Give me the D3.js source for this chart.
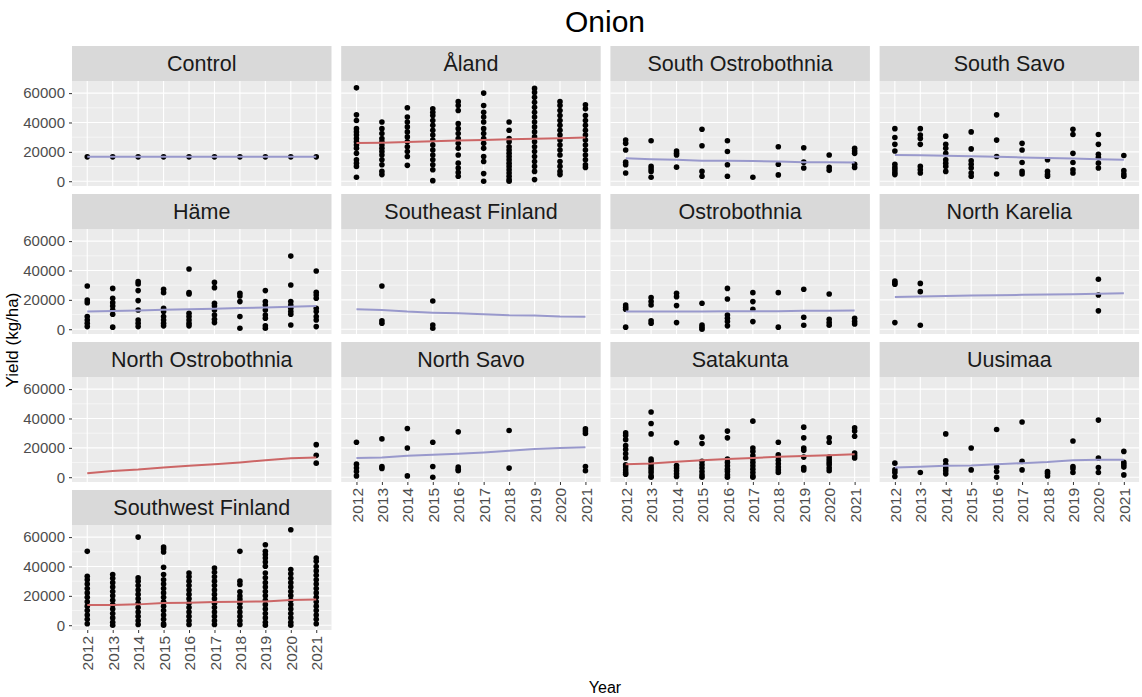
<!DOCTYPE html>
<html><head><meta charset="utf-8">
<script src="https://cdn.jsdelivr.net/npm/d3@7"></script>
<style>body{margin:0;background:#fff} text{font-family:"Liberation Sans",Arial,sans-serif}</style>
</head><body><svg id="c" width="1142" height="697"></svg>
<script>
const years = [2012,2013,2014,2015,2016,2017,2018,2019,2020,2021];
const regions = ["Control","Åland","South Ostrobothnia","South Savo","Häme","Southeast Finland","Ostrobothnia","North Karelia","North Ostrobothnia","North Savo","Satakunta","Uusimaa","Southwest Finland"];
// trend group per region: "up" drawn red, "flat" drawn purple
const trendGroup = ["flat","up","flat","flat","flat","flat","flat","flat","up","flat","up","flat","up"];
const yTicks = [0,20000,40000,60000];

// observed yields (kg/ha), one list per year 2012..2021
const ptsControl = [[16600],[16600],[16600],[16600],[16600],[16600],[16600],[16600],[16600],[16600]];
const ptsAland = [
 [63600,45200,41400,35800,33600,31400,29100,26900,24600,22400,19000,14600,12300,10100,2700],
 [40300,35800,32500,29100,26900,24600,22400,20200,17900,14600,11200,6700,4500],
 [50000,43700,40300,37000,33600,30200,26900,23500,20200,16800,10800],
 [49300,47000,44800,41400,38100,34700,31400,28000,24600,21300,17900,14600,11200,7800,400],
 [54200,51500,48200,39200,35800,32500,29100,25800,22400,17900,12300,9000,6000,3400],
 [60000,51500,47000,43700,40300,35800,32500,29100,25800,22400,16800,13400,5200,0],
 [40300,34700,29100,26900,23500,21300,19000,16800,14600,12300,10100,7800,5600,3400,1100,0],
 [63200,60500,57100,53800,50400,47000,43700,40300,37000,33600,30200,26900,23500,20200,16800,13400,10100,6700,1100],
 [54200,51500,48200,44800,41400,38100,34700,31400,28000,24600,21300,17900,13400,10100,6700,4500],
 [52000,49300,44800,41400,38100,34700,31400,28000,24600,21300,17900,14600,11200,9400]];
const ptsSouthOstrobothnia = [
 [28000,25800,21300,13000,11200,5600],[27600,10100,8300,6700,2700],[20600,19000,17900,9600],
 [35400,24200,6700,3400],[27600,20200,11200,3400],[2700],[23500,11600,4300],[22800,13000,9000],
 [17900,9400,7400],[22400,20600,19000,11600,9400]];
const ptsSouthSavo = [
 [35800,29800,25100,20600,11600,9400,7800,6000,4500],[35800,31400,29100,25100,10100,7800,5600],
 [30700,25100,22400,19000,14600,12300,10100,6700],[33600,22000,13900,11600,9000,5600,3400],
 [45200,28000,16800,4900],[25800,21300,12800,6700,4900],[14600,6700,4500,3400],
 [35400,31800,19000,12800,7800,5600],[31800,25100,18400,16100,12300,9000],[17500,7200,4900,3400]];
const ptsHame = [
 [29400,19900,18100,8600,6300,4100,1800],[27800,21100,18100,15800,13100,10200,1400],
 [32400,30800,26300,19500,13100,6300,4100,1800],[27200,24900,14300,12000,8600,6300,4100,2300],
 [41000,24900,24000,10900,8600,6300,4100,2300],[31900,28300,17700,15800,13100,9700,6800,4500],
 [24500,22600,18800,8600,700],[26300,18800,16500,13100,9700,7500,2300,700],
 [49800,30100,18800,16500,14300,12000,10200,2900],[39600,25100,23300,21100,14300,12000,8600,6300,1800]];
const ptsSoutheastFinland = [[],[29400,5700,4100],[],[19200,2900,700],[],[],[],[],[],[]];
const ptsOstrobothnia = [
 [16500,14900,13600,1400],[21500,18800,16500,5700,4100],[24500,22200,16100,4500],[17700,2900,1400,0],
 [27800,20600,9700,7500,5200,2300],[24900,18800,13600,5200],[24900,1400],[27200,8200,2700],
 [24000,6800,4500,2700],[7500,5200,3600]];
const ptsNorthKarelia = [[32800,31700,30600,4500],[31200,25600,2700],[],[],[],[],[],[],[34000,23300,12500],[]];
const ptsNorthOstrobothnia = [[],[],[],[],[],[],[],[],[],[22200,14900,9600]];
const ptsNorthSavo = [
 [23800,8900,6200,3900,900],[26100,7300,6000],[33200,19900,900],[23800,7300,0],[30900,6900,5500,4400],
 [],[31800,6200],[],[],[33000,31400,29800,7300,4400]];
const ptsSatakunta = [
 [30200,28400,25600,21500,18800,16000,13100,8500,6900,5000,3200,2100],
 [44400,36600,29500,12400,10800,8500,6600,5000,3200,900,0],
 [23400,8000,6200,4400,2300,500],
 [27300,22900,10800,8500,6200,3900,1600,0],
 [31400,26800,12400,10100,7800,5500,3900,1600,0],
 [38200,19900,17600,14700,12400,10100,7800,5500,3200,900,0],
 [23800,15300,13700,11500,9200,6900,5000,3200],
 [34100,26800,19900,18300,13700,6600,5000],
 [26800,23800,13700,11900,10100,8500,6200,4400],
 [33700,31400,27900,16500,14700,13100]];
const ptsUusimaa = [
 [9600,5000,3200,500],[3200],[29500,11200,8500,6200,4400,2300],[19900,5000],[32500,6900,3900,0],
 [37600,10800,5000],[3900,2700,900],[24700,7300,5700,3200],[38900,13100,6600,3200],[17600,10100,8500,6900,1600]];
const ptsSouthwestFinland = [
 [50300,33400,31000,28000,25000,22000,19000,16000,13000,10000,7000,4000,1000],
 [34500,32000,29000,26000,23000,20000,17000,14000,11000,8000,5000,2000,0],
 [60000,32300,30000,27000,24000,21000,18000,15000,12000,9000,6000,3000,500],
 [53200,51900,49900,39500,34500,31000,28000,25000,22000,19000,16000,13000,10000,7000,4000,1000,0],
 [35600,33000,30000,27000,24000,21000,18000,15000,12000,9000,6000,3000,500],
 [39000,36000,33000,30000,27000,24000,21000,18000,15000,12000,9000,6000,3000,500],
 [50300,30000,27700,22800,19900,17600,15000,12000,9000,6000,3000,500],
 [54800,50300,48100,45800,43100,40200,35600,32300,29000,26000,23000,20000,17000,14000,11000,8000,5000,2000,0],
 [65000,37900,35000,32000,29000,26000,23000,20000,17000,14000,11000,8000,5000,2000,0],
 [45800,43500,40000,37000,34000,31000,28000,25000,22000,19000,16000,13000,10000,7000,4000,1000]];

// fitted trend values per year
const fitControl = [16600,16600,16600,16600,16600,16600,16600,16600,16600,16600];
const fitAland = [26000,26200,26700,27200,27700,28100,28500,28900,29300,29700];
const fitSouthOstrobothnia = [15600,15000,14600,13900,13900,13700,13400,13000,13000,12800];
const fitSouthSavo = [17900,17700,17300,17000,16600,16200,15800,15400,15000,14600];
const fitHame = [12000,12400,12800,13200,13600,14000,14400,14800,15300,15800];
const fitSoutheastFinland = [13600,13100,12000,11300,10900,10200,9500,9300,8700,8500];
const fitOstrobothnia = [12000,12000,12100,12100,12200,12200,12300,12500,12600,12700];
const fitNorthKarelia = [22000,22300,22600,22900,23100,23400,23600,23900,24200,24500];
const fitNorthOstrobothnia = [2700,4200,5200,6600,7800,8900,10100,11500,12900,13500];
const fitNorthSavo = [13100,13500,14700,15300,16000,16900,18100,19200,19900,20400];
const fitSatakunta = [8900,9400,10500,11500,12400,13100,14000,14400,14900,15600];
const fitUusimaa = [6600,7100,7800,8000,8900,9600,10300,11500,11900,11900];
const fitSouthwestFinland = [13800,13800,14200,15100,15300,15800,16000,16200,17100,17600];

const allPts = [ptsControl,ptsAland,ptsSouthOstrobothnia,ptsSouthSavo,ptsHame,ptsSoutheastFinland,ptsOstrobothnia,ptsNorthKarelia,ptsNorthOstrobothnia,ptsNorthSavo,ptsSatakunta,ptsUusimaa,ptsSouthwestFinland];
const allFit = [fitControl,fitAland,fitSouthOstrobothnia,fitSouthSavo,fitHame,fitSoutheastFinland,fitOstrobothnia,fitNorthKarelia,fitNorthOstrobothnia,fitNorthSavo,fitSatakunta,fitUusimaa,fitSouthwestFinland];

const svg = d3.select("#c");
const left0 = 72, pw = 259.5, pitchX = 269.2, top0 = 46, stripH = 35, ph = 105, pitchY = 148;
const ncol = 4;

const x = d3.scalePoint().domain(years).range([0, pw]).padding(0.6);
const allVals = allPts.flat(2);
const maxV = d3.max(allVals), minV = 0;
const pad = (maxV - minV) * 0.05;
const y = d3.scaleLinear().domain([minV - pad, maxV + pad]).range([ph, 0]);
const color = d3.scaleOrdinal().domain(["up","flat"]).range(["#cc6666","#9999cc"]);
const minor = [10000,30000,50000];

svg.append("text").attr("x", 605).attr("y", 32).attr("text-anchor","middle")
  .style("font-size","30px").attr("fill","#000").text("Onion");

regions.forEach((name, i) => {
  const col = i % ncol, row = Math.floor(i / ncol);
  const g = svg.append("g").attr("transform", `translate(${left0 + col*pitchX},${top0 + row*pitchY})`);
  g.append("rect").attr("width", pw).attr("height", stripH).attr("fill", "#d9d9d9");
  g.append("text").attr("x", pw/2).attr("y", stripH/2).attr("dy","0.36em").attr("text-anchor","middle")
    .style("font-size","21.5px").attr("fill","#1a1a1a").text(name);
  const p = g.append("g").attr("transform", `translate(0,${stripH})`);
  p.append("rect").attr("width", pw).attr("height", ph).attr("fill", "#ebebeb");
  p.selectAll("line.mn").data(minor).join("line").attr("x1",0).attr("x2",pw)
    .attr("y1",d=>y(d)).attr("y2",d=>y(d)).attr("stroke","#fff").attr("stroke-width",0.55);
  p.selectAll("line.mjy").data(yTicks).join("line").attr("x1",0).attr("x2",pw)
    .attr("y1",d=>y(d)).attr("y2",d=>y(d)).attr("stroke","#fff").attr("stroke-width",1.1);
  p.selectAll("line.mjx").data(years).join("line").attr("y1",0).attr("y2",ph)
    .attr("x1",d=>x(d)).attr("x2",d=>x(d)).attr("stroke","#fff").attr("stroke-width",1.1);
  const pts = [];
  allPts[i].forEach((arr, k) => arr.forEach(v => pts.push({yr: years[k], v})));
  p.selectAll("circle").data(pts).join("circle").attr("cx", d=>x(d.yr)).attr("cy", d=>y(d.v))
    .attr("r", 2.8).attr("fill", "#000");
  const line = d3.line().x((d,k)=>x(years[k])).y(d=>y(d));
  p.append("path").datum(allFit[i]).attr("d", line).attr("fill","none")
    .attr("stroke", color(trendGroup[i])).attr("stroke-width", 2);

  if (col === 0) {
    const ax = p.append("g").call(d3.axisLeft(y).tickValues(yTicks).tickSize(3).tickPadding(4).tickFormat(d3.format("d")));
    ax.select(".domain").remove();
    ax.selectAll("line").attr("stroke","#333");
    ax.selectAll("text").attr("fill","#4d4d4d").style("font-size","15px").style("font-family","'Liberation Sans',Arial,sans-serif");
  }
  const below = i + ncol;
  if (below >= regions.length) {
    const ax = p.append("g").attr("transform", `translate(0,${ph})`)
      .call(d3.axisBottom(x).tickSize(3).tickFormat(d3.format("d")));
    ax.select(".domain").remove();
    ax.selectAll("line").attr("stroke","#333");
    ax.selectAll("text").attr("fill","#4d4d4d").style("font-size","15.5px")
      .style("font-family","'Liberation Sans',Arial,sans-serif")
      .attr("transform","rotate(-90)").attr("x",-6).attr("y",0).attr("dy","0.36em").attr("text-anchor","end");
  }
});

svg.append("text").attr("x", 605).attr("y", 693).attr("text-anchor","middle")
  .style("font-size","16px").attr("fill","#000").text("Year");
svg.append("text").attr("transform", "translate(18,340) rotate(-90)").attr("text-anchor","middle")
  .style("font-size","17px").attr("fill","#000").text("Yield (kg/ha)");
</script></body></html>
